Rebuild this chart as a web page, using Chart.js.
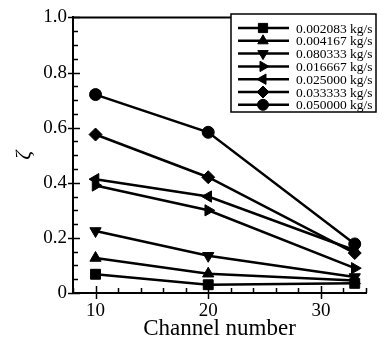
<!DOCTYPE html>
<html>
<head>
<meta charset="utf-8">
<script src="https://cdn.jsdelivr.net/npm/chart.js@4/dist/chart.umd.min.js"></script>
<style>
  html, body { margin: 0; padding: 0; background: #fff; }
  #wrap { width: 382px; height: 345px; position: relative; }
</style>
</head>
<body>
<div id="wrap"><canvas id="c"></canvas></div>
<script>
// channel positions and loss coefficient per mass flow rate
const channels = [10, 20, 33];
const flowLabels = ['0.002083 kg/s', '0.004167 kg/s', '0.080333 kg/s', '0.016667 kg/s',
                    '0.025000 kg/s', '0.033333 kg/s', '0.050000 kg/s'];
const zeta1 = [0.068, 0.030, 0.035];
const zeta2 = [0.127, 0.070, 0.045];
const zeta3 = [0.225, 0.135, 0.058];
const zeta4 = [0.390, 0.300, 0.090];
const zeta5 = [0.413, 0.350, 0.155];
const zeta6 = [0.575, 0.420, 0.145];
const zeta7 = [0.720, 0.583, 0.178];
const xTicks = [10, 20, 30];
const yTicks = [0, 0.2, 0.4, 0.6, 0.8, 1.0];

const FONT = "'Liberation Serif', 'Times New Roman', serif";
const markers = [
  { style: 'rect', rot: 0, r: 7 },
  { style: 'triangle', rot: 0, r: 6.5 },
  { style: 'triangle', rot: 180, r: 6.5 },
  { style: 'triangle', rot: 90, r: 6.5 },
  { style: 'triangle', rot: 270, r: 6.5 },
  { style: 'rectRot', rot: 0, r: 6.5 },
  { style: 'circle', rot: 0, r: 6 },
];

const series = [zeta1, zeta2, zeta3, zeta4, zeta5, zeta6, zeta7];
const datasets = series.map((vals, i) => ({
  label: flowLabels[i],
  data: vals.map((v, j) => ({ x: channels[j], y: v })),
  borderColor: '#000',
  backgroundColor: '#000',
  borderWidth: 2.5,
  pointStyle: markers[i].style,
  pointRotation: markers[i].rot,
  pointRadius: markers[i].r,
  pointBorderWidth: 1,
  pointHoverRadius: markers[i].r,
}));

// inward ticks (major + minor) and the top frame line
const frameTicks = {
  id: 'frameTicks',
  afterDraw(chart) {
    const { ctx, chartArea: a, scales: { x, y } } = chart;
    ctx.save();
    ctx.strokeStyle = '#000';
    ctx.lineWidth = 2;
    ctx.beginPath();
    ctx.moveTo(a.left - 1, a.top);
    ctx.lineTo(a.right, a.top);
    ctx.stroke();
    ctx.lineWidth = 1.5;
    ctx.beginPath();
    for (let v = 8; v <= 34; v += 2) {
      const px = Math.round(x.getPixelForValue(v)) + 0.5;
      const major = xTicks.includes(v);
      ctx.moveTo(px, a.bottom + (major ? 6 : 0));
      ctx.lineTo(px, a.bottom - (major ? 7 : 5));
    }
    for (let k = 0; k <= 20; k++) {
      const v = k * 0.05;
      const py = Math.round(y.getPixelForValue(v)) + 0.5;
      const major = k % 4 === 0;
      ctx.moveTo(a.left - (major ? 5 : 0), py);
      ctx.lineTo(a.left + (major ? 7 : 5), py);
    }
    ctx.stroke();
    ctx.restore();
  }
};

// boxed legend in the top-right corner
const boxLegend = {
  id: 'boxLegend',
  afterDraw(chart) {
    const ctx = chart.ctx;
    const bx = 231, by = 14, bw = 145, bh = 98;
    ctx.save();
    ctx.fillStyle = '#fff';
    ctx.fillRect(bx, by, bw, bh);
    ctx.strokeStyle = '#000';
    ctx.lineWidth = 1.5;
    ctx.strokeRect(bx, by, bw, bh);
    ctx.font = '13.5px ' + FONT;
    ctx.textBaseline = 'middle';
    chart.data.datasets.forEach((ds, i) => {
      const ry = 28 + i * 12.8;
      ctx.strokeStyle = '#000';
      ctx.lineWidth = 2.5;
      ctx.beginPath();
      ctx.moveTo(238, ry);
      ctx.lineTo(289, ry);
      ctx.stroke();
      ctx.fillStyle = '#000';
      ctx.lineWidth = 1;
      Chart.helpers.drawPoint(ctx, {
        pointStyle: ds.pointStyle, rotation: ds.pointRotation,
        radius: ds.pointRadius - 0.5, borderWidth: 1
      }, 263, ry);
      ctx.fillStyle = '#000';
      ctx.fillText(ds.label, 296, ry + 1);
    });
    ctx.restore();
  }
};

new Chart(document.getElementById('c'), {
  type: 'line',
  data: { datasets },
  plugins: [frameTicks, boxLegend],
  options: {
    responsive: true,
    maintainAspectRatio: false,
    animation: false,
    layout: { padding: { top: 15, right: 16, left: 0, bottom: 0 } },
    plugins: { legend: { display: false }, tooltip: { enabled: false } },
    scales: {
      x: {
        type: 'linear',
        min: 8, max: 34,
        afterBuildTicks: (s) => { s.ticks = xTicks.map(v => ({ value: v })); },
        afterFit: (s) => { s.height = 52; },
        grid: { display: false, drawTicks: false },
        border: { display: true, color: '#000', width: 2 },
        ticks: { color: '#000', padding: 7, maxRotation: 0, font: { family: FONT, size: 19 } },
        title: { display: true, text: 'Channel number', color: '#000', padding: { top: 0, bottom: 2 },
                 font: { family: FONT, size: 23 } },
      },
      y: {
        min: 0, max: 1,
        afterBuildTicks: (s) => { s.ticks = yTicks.map(v => ({ value: v })); },
        afterFit: (s) => { s.width = 73; },
        grid: { display: false, drawTicks: false },
        border: { display: true, color: '#000', width: 2 },
        ticks: { color: '#000', padding: 6, font: { family: FONT, size: 19 },
                 callback: (v) => v === 0 ? '0' : v.toFixed(1) },
        title: { display: true, text: 'ζ', color: '#000', padding: { top: 11, bottom: 0 },
                 font: { family: FONT, size: 22, style: 'italic' } },
      },
    },
  },
});
</script>
</body>
</html>
